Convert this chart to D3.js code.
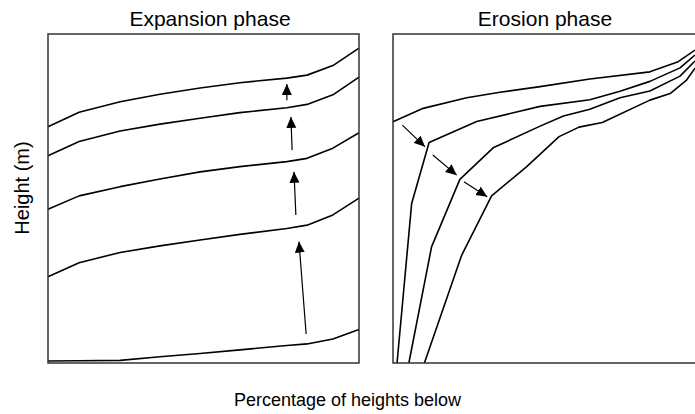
<!DOCTYPE html>
<html>
<head>
<meta charset="utf-8">
<script src="https://cdn.jsdelivr.net/npm/d3@7"></script>
<style>
  body { margin: 0; background: #fff; }
  text { font-family: "Liberation Sans", Arial, sans-serif; fill: #000; }
</style>
</head>
<body>
<div id="chart"></div>
<script>
// data: x = percentage of heights below, y = height (relative, 0-100)
const expPct = [0, 10, 23.2, 36, 48.9, 61.7, 76.8, 83.3, 91.6, 100];
const exp1 = [71.8, 76.2, 79.4, 81.7, 83.6, 85.2, 86.6, 87.5, 90.4, 95.7];
const exp2 = [63.0, 67.3, 70.5, 72.6, 74.4, 76.1, 77.6, 78.6, 81.5, 86.9];
const exp3 = [46.7, 50.8, 53.6, 55.9, 58.1, 59.7, 61.2, 62.2, 65.3, 70.0];
const exp4 = [26.2, 30.5, 33.6, 35.6, 37.4, 39.1, 40.9, 41.9, 45.0, 50.1];
const exp5 = [0.6, 0.7, 0.8, 1.9, 2.9, 4.0, 5.3, 5.8, 7.3, 10.2];

const ero1Pct = [0, 9.7, 23.7, 34.4, 47.3, 63.3, 82.6, 91.7, 97.1];
const ero1 = [73.3, 77.4, 80.6, 82.3, 84.0, 86.3, 88.5, 91.6, 95.1];
const ero2Pct = [1.3, 6.0, 11.6, 26.9, 47.3, 63.3, 73.0, 82.6, 92.3, 97.1];
const ero2 = [0, 48.5, 67.0, 73.4, 78.0, 80.0, 82.6, 85.6, 89.7, 93.6];
const ero3Pct = [5.1, 12.4, 21.5, 32.2, 47.3, 54.8, 63.3, 73.0, 82.6, 92.3, 97.1];
const ero3 = [0, 35.3, 55.8, 65.4, 72.0, 75.1, 77.1, 80.6, 82.7, 87.2, 91.8];
const ero4Pct = [10.1, 22.1, 31.7, 43.0, 53.4, 59.8, 67.3, 82.6, 89.1, 94.4, 97.1];
const ero4 = [0, 32.8, 50.8, 59.7, 68.8, 71.7, 73.1, 79.9, 81.9, 86.0, 89.6];

// arrows [x1, y1, x2, y2] in data units
const expArrows = [
  [76.8, 79.9, 76.8, 84.8],
  [78.5, 64.7, 78.1, 74.8],
  [79.7, 45.0, 79.1, 58.1],
  [83.0, 8.8, 80.7, 36.9]
];
const eroArrows = [
  [3.0, 72.3, 10.3, 65.7],
  [12.8, 63.2, 20.5, 57.1],
  [22.8, 55.1, 30.3, 50.5]
];

const width = 695, height = 414;
const panelW = 311, panelH = 329, panelTop = 34;

const svg = d3.select("#chart").append("svg")
  .attr("width", width)
  .attr("height", height);

svg.append("defs").append("marker")
  .attr("id", "head")
  .attr("viewBox", "0 -5.5 11 11")
  .attr("refX", 11)
  .attr("refY", 0)
  .attr("markerUnits", "userSpaceOnUse")
  .attr("markerWidth", 11)
  .attr("markerHeight", 11)
  .attr("orient", "auto")
  .append("path")
  .attr("d", "M0,-5L11,0L0,5Z")
  .attr("fill", "#000");

const y = d3.scaleLinear().domain([0, 100]).range([panelTop + panelH, panelTop]);

function drawPanel(left, curves, arrows) {
  const x = d3.scaleLinear().domain([0, 100]).range([left, left + panelW]);
  const g = svg.append("g");

  const line = d3.line()
    .x(d => x(d[0]))
    .y(d => y(d[1]));

  curves.forEach(function(c) {
    const pts = c.xs.map((v, i) => [v, c.ys[i]]);
    g.append("path")
      .datum(pts)
      .attr("fill", "none")
      .attr("stroke", "#000")
      .attr("stroke-width", 1.6)
      .attr("stroke-linejoin", "round")
      .attr("d", line);
  });

  arrows.forEach(function(a) {
    g.append("line")
      .attr("x1", x(a[0])).attr("y1", y(a[1]))
      .attr("x2", x(a[2])).attr("y2", y(a[3]))
      .attr("stroke", "#000")
      .attr("stroke-width", 1.2)
      .attr("marker-end", "url(#head)");
  });

  // frame
  g.append("rect")
    .attr("x", left)
    .attr("y", panelTop)
    .attr("width", panelW)
    .attr("height", panelH)
    .attr("fill", "none")
    .attr("stroke", "#333")
    .attr("stroke-width", 1.5);
}

drawPanel(48, [
  {xs: expPct, ys: exp1}, {xs: expPct, ys: exp2}, {xs: expPct, ys: exp3},
  {xs: expPct, ys: exp4}, {xs: expPct, ys: exp5}
], expArrows);

drawPanel(393, [
  {xs: ero1Pct, ys: ero1}, {xs: ero2Pct, ys: ero2},
  {xs: ero3Pct, ys: ero3}, {xs: ero4Pct, ys: ero4}
], eroArrows);

// titles
svg.append("text")
  .attr("x", 210).attr("y", 26)
  .attr("text-anchor", "middle")
  .style("font-size", "21px")
  .text("Expansion phase");

svg.append("text")
  .attr("x", 545).attr("y", 26)
  .attr("text-anchor", "middle")
  .style("font-size", "21px")
  .text("Erosion phase");

// axis labels
svg.append("text")
  .attr("x", width / 2).attr("y", 406)
  .attr("text-anchor", "middle")
  .style("font-size", "18px")
  .text("Percentage of heights below");

svg.append("text")
  .attr("transform", "translate(29,188) rotate(-90)")
  .attr("text-anchor", "middle")
  .style("font-size", "20px")
  .text("Height (m)");
</script>
</body>
</html>
